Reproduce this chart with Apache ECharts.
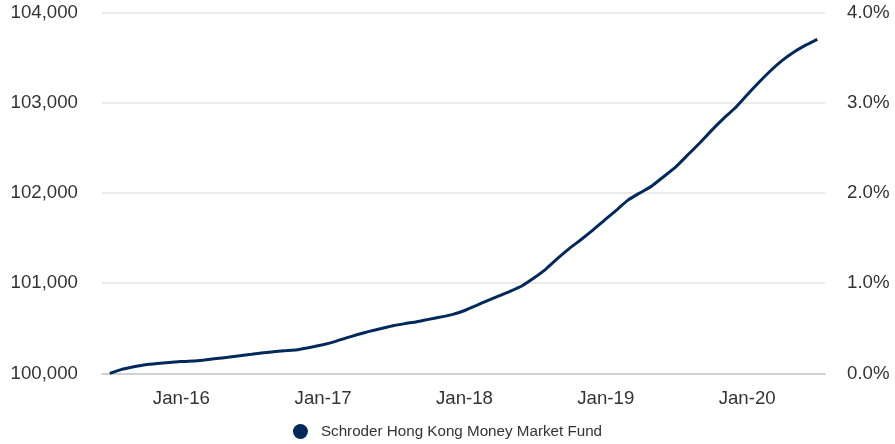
<!DOCTYPE html>
<html>
<head>
<meta charset="utf-8">
<script src="https://cdn.jsdelivr.net/npm/echarts@6/dist/echarts.min.js"></script>
<style>
html,body{margin:0;padding:0;background:#fff;}
#chart{width:895px;height:444px;}
</style>
</head>
<body>
<div id="chart"></div>
<script>
// Month-end dates
var dates = [
'2015-06-30','2015-07-31','2015-08-31','2015-09-30','2015-10-31','2015-11-30','2015-12-31',
'2016-01-31','2016-02-29','2016-03-31','2016-04-30','2016-05-31','2016-06-30','2016-07-31','2016-08-31','2016-09-30','2016-10-31','2016-11-30','2016-12-31',
'2017-01-31','2017-02-28','2017-03-31','2017-04-30','2017-05-31','2017-06-30','2017-07-31','2017-08-31','2017-09-30','2017-10-31','2017-11-30','2017-12-31',
'2018-01-31','2018-02-28','2018-03-31','2018-04-30','2018-05-31','2018-06-30','2018-07-31','2018-08-31','2018-09-30','2018-10-31','2018-11-30','2018-12-31',
'2019-01-31','2019-02-28','2019-03-31','2019-04-30','2019-05-31','2019-06-30','2019-07-31','2019-08-31','2019-09-30','2019-10-31','2019-11-30','2019-12-31',
'2020-01-31','2020-02-29','2020-03-31','2020-04-30','2020-05-31','2020-06-30'
];
// Indexed value of the fund
var fundValues = [
100000,100045,100073,100097,100111,100122,100131,
100137,100149,100164,100178,100196,100212,100229,100242,100253,100266,100289,100318,
100352,100391,100431,100466,100497,100528,100552,100573,100599,100625,100652,100695,
100751,100805,100860,100913,100975,101060,101160,101280,101389,101490,101594,101709,
101820,101924,102004,102079,102184,102287,102420,102553,102690,102822,102940,103085,
103226,103351,103468,103561,103640,103705
];
var seriesName = 'Schroder Hong Kong Money Market Fund';
var leftTicks = {min:100000, max:104000, interval:1000};
var rightTicks = {min:0, max:4, interval:1};

var FONT = 'Arial, "Liberation Sans", Helvetica, sans-serif';
var chart = echarts.init(document.getElementById('chart'), null, {renderer:'canvas'});
chart.setOption({
  animation:false,
  backgroundColor:'#ffffff',
  textStyle:{fontFamily:FONT},
  grid:{left:102,right:70,top:12.7,bottom:70.6,containLabel:false},
  legend:{
    show:true,
    left:'center',
    top:419,
    icon:'circle',
    itemWidth:31,
    itemHeight:15,
    textStyle:{fontSize:15.2,color:'#333333',fontFamily:FONT},
    data:[seriesName]
  },
  xAxis:{
    type:'time',
    min:'2015-06-10',
    max:'2020-07-20',
    minInterval:365*86400000,
    maxInterval:366*86400000,
    axisLine:{show:true,lineStyle:{color:'#d0d0d0',width:2}},
    axisTick:{show:false},
    splitLine:{show:false},
    axisLabel:{
      margin:16,
      fontSize:18.67,
      color:'#333333',
      fontFamily:FONT,
      hideOverlap:false,
      showMinLabel:false,
      showMaxLabel:false,
      formatter:function(v){
        var d=new Date(v);
        if(d.getMonth()!==0 || d.getDate()!==1) return '';
        return 'Jan-'+String(d.getFullYear()).slice(2);
      }
    }
  },
  yAxis:[{
    type:'value',
    position:'left',
    min:leftTicks.min,max:leftTicks.max,interval:leftTicks.interval,
    axisLine:{show:false},axisTick:{show:false},
    splitLine:{show:true,lineStyle:{color:'#e3e3e3',width:1.5}},
    axisLabel:{
      margin:24,fontSize:18.67,color:'#333333',fontFamily:FONT,
      padding:[5,0,0,0],
      formatter:function(v){return v.toLocaleString('en-US');}
    }
  },{
    type:'value',
    position:'right',
    min:rightTicks.min,max:rightTicks.max,interval:rightTicks.interval,
    axisLine:{show:false},axisTick:{show:false},
    splitLine:{show:false},
    axisLabel:{
      margin:22,fontSize:18.67,color:'#333333',fontFamily:FONT,
      padding:[5,0,0,0],
      formatter:function(v){return v.toFixed(1)+'%';}
    }
  }],
  series:[{
    name:seriesName,
    type:'line',
    yAxisIndex:0,
    showSymbol:false,
    symbol:'circle',
    smooth:0.15,
    color:'#03295a',
    lineStyle:{color:'#03295a',width:3},
    itemStyle:{color:'#03295a'},
    data:dates.map(function(d,i){return [d,fundValues[i]];})
  }]
});
</script>
</body>
</html>
